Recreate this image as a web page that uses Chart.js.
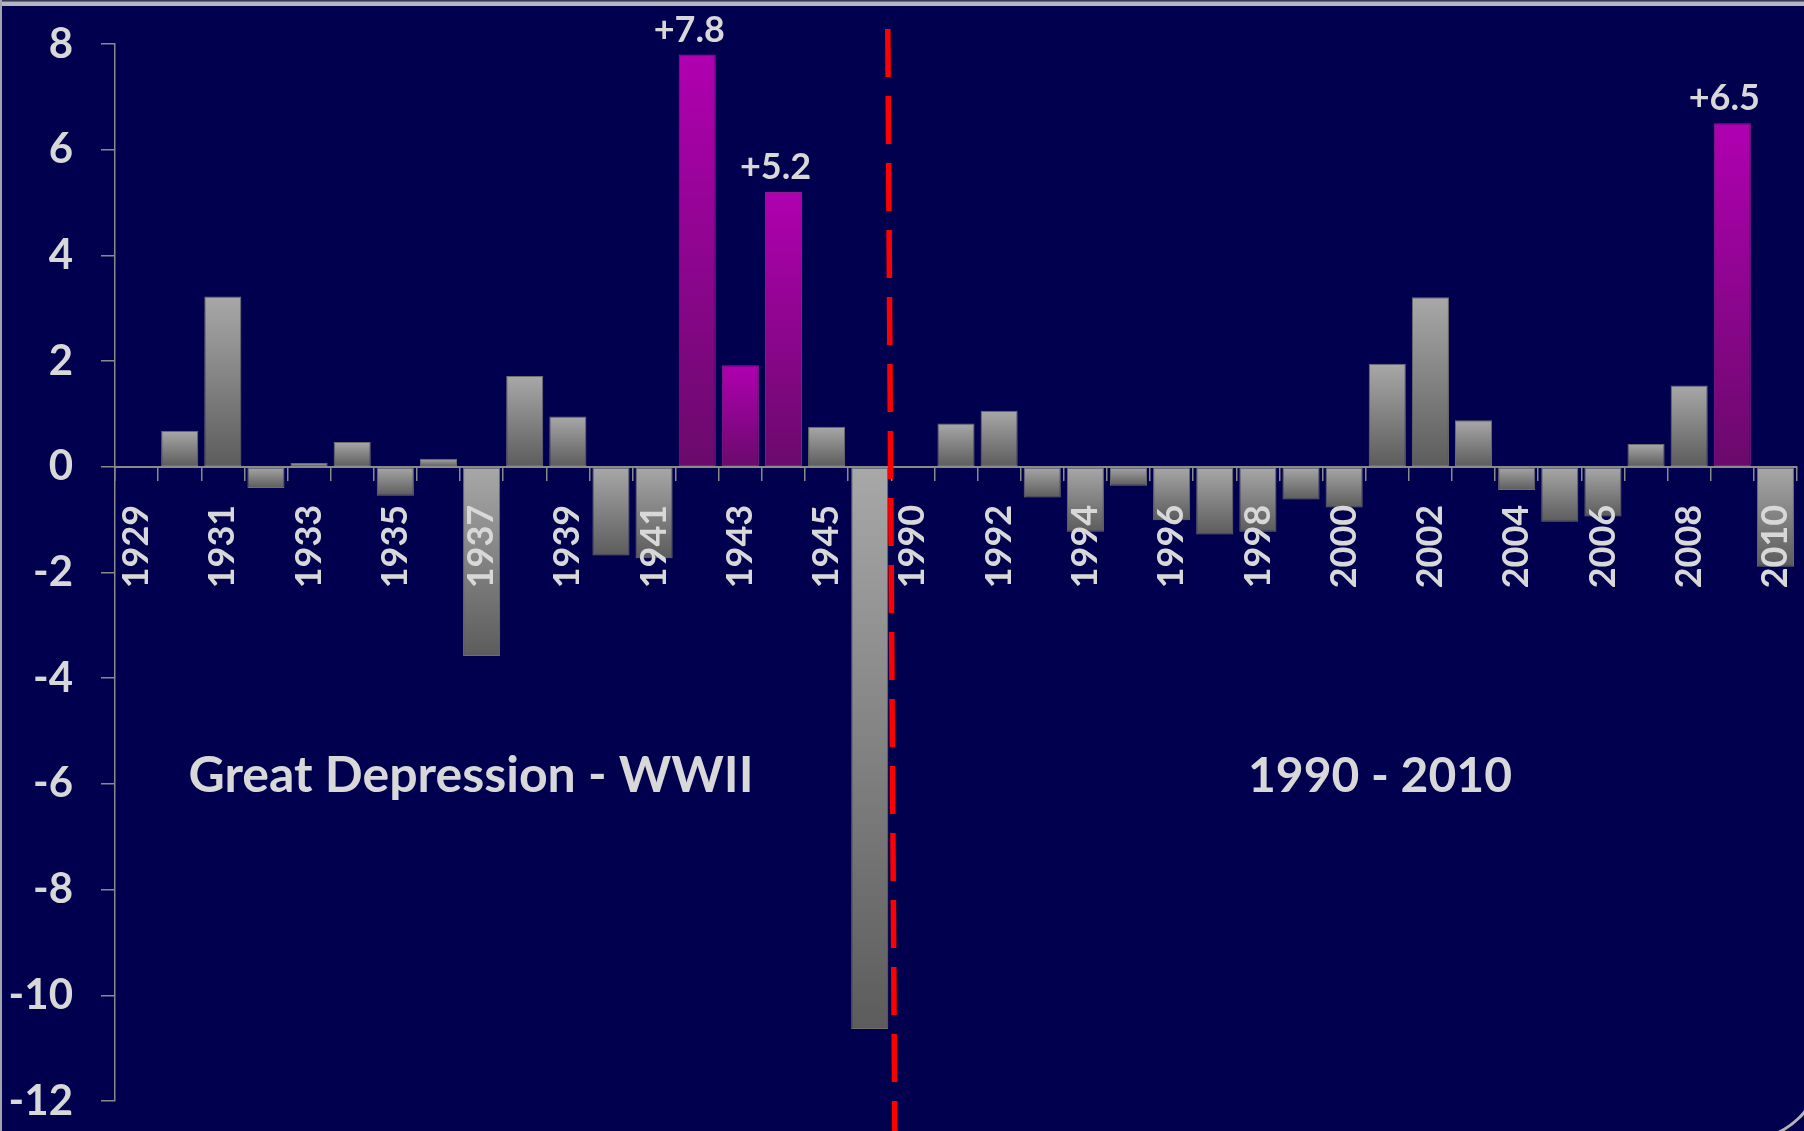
<!DOCTYPE html>
<html>
<head>
<meta charset="utf-8">
<script src="https://cdn.jsdelivr.net/npm/chart.js@4.4.1/dist/chart.umd.min.js"></script>
<style>
  html, body { margin: 0; padding: 0; background: #00004f; overflow: hidden; }
  #wrap { width: 1804px; height: 1131px; }
</style>
</head>
<body>
<div id="wrap"><canvas id="chart" width="1804" height="1131"></canvas></div>
<script>
// Two periods shown side by side: 1929-1946 and 1990-2010
const years = [
  '1929','1930','1931','1932','1933','1934','1935','1936','1937','1938',
  '1939','1940','1941','1942','1943','1944','1945','1946',
  '1990','1991','1992','1993','1994','1995','1996','1997','1998','1999',
  '2000','2001','2002','2003','2004','2005','2006','2007','2008','2009','2010'
];
const changes = [
  0, 0.68, 3.22, -0.40, 0.07, 0.47, -0.55, 0.15, -3.58, 1.72,
  0.95, -1.68, -1.73, 7.8, 1.92, 5.2, 0.76, -10.64,
  0, 0.82, 1.06, -0.58, -1.23, -0.36, -1.01, -1.28, -1.23, -0.62,
  -0.77, 1.95, 3.21, 0.88, -0.44, -1.04, -0.94, 0.43, 1.54, 6.5, -1.89
];
const highlightedYears = ['1942', '1943', '1944', '2009'];
const annotatedYears = ['1942', '1944', '2009'];
const labelledYears = [
  '1929','1931','1933','1935','1937','1939','1941','1943','1945',
  '1990','1992','1994','1996','1998','2000','2002','2004','2006','2008','2010'
];
const yTickValues = [8, 6, 4, 2, 0, -2, -4, -6, -8, -10, -12];
const periodTitles = ['Great Depression - WWII', '1990 - 2010'];

const BG = '#00004f';
const TEXT = '#d8d8d8';
const AXIS = '#8a8a8a';
const FONT = 'Lato, "Open Sans", sans-serif';
// wanted plot rectangle inside the 1804x1131 canvas
const PLOT = { left: 115, top: 44, right: 1797, bottom: 1101 };

function isHighlighted(i) { return highlightedYears.includes(years[i]); }

// Vertical gradient spanning each bar, light at the top, dark at the bottom
function barFill(ctx) {
  const chart = ctx.chart;
  const { chartArea, scales } = chart;
  if (!chartArea || !scales.y || ctx.type !== 'data') return '#999999';
  const hi = isHighlighted(ctx.dataIndex);
  const v = ctx.parsed ? ctx.parsed.y : 0;
  const p0 = scales.y.getPixelForValue(0);
  const p1 = scales.y.getPixelForValue(v);
  const top = Math.min(p0, p1);
  const bot = Math.max(p0, p1, top + 1);
  const g = chart.ctx.createLinearGradient(0, top, 0, bot);
  if (hi) {
    g.addColorStop(0, '#b000b0');
    g.addColorStop(1, '#6a0a6c');
  } else {
    g.addColorStop(0, '#a8a8a8');
    g.addColorStop(1, '#5c5c5c');
  }
  return g;
}

const backdrop = {
  id: 'backdrop',
  beforeDraw(chart) {
    const c = chart.ctx;
    c.save();
    c.fillStyle = BG;
    c.fillRect(0, 0, chart.width, chart.height);
    // slide frame: top edge, left edge, rounded lower-right corner
    c.fillStyle = '#3a3a5a';
    c.fillRect(0, 0, chart.width, 1.5);
    c.fillStyle = '#b6b6c2';
    c.fillRect(0, 1.5, chart.width, 4.5);
    c.fillStyle = '#a4a4ae';
    c.fillRect(0, 0, 2, chart.height);
    c.strokeStyle = '#b4b4b4';
    c.lineWidth = 3;
    c.beginPath();
    c.arc(1742, 1059, 82, 0, Math.PI / 2);
    c.stroke();
    c.restore();
  }
};

const overlays = {
  id: 'overlays',
  afterDraw(chart) {
    const c = chart.ctx;
    const xs = chart.scales.x, ys = chart.scales.y;
    const meta = chart.getDatasetMeta(0);
    c.save();

    // value labels above the highlighted peaks
    c.fillStyle = TEXT;
    c.font = 'bold 36px ' + FONT;
    c.textAlign = 'center';
    c.textBaseline = 'alphabetic';
    annotatedYears.forEach(yr => {
      const i = years.indexOf(yr);
      const bar = meta.data[i];
      const v = changes[i];
      c.fillText((v > 0 ? '+' : '') + v.toFixed(1), bar.x - 8, bar.y - 13);
    });

    // period titles
    const ty = ys.getPixelForValue(-6) + 8;
    c.font = 'bold 50px ' + FONT;
    c.fillText(periodTitles[0], 471, ty);
    c.font = 'bold 48px ' + FONT;
    c.fillText(periodTitles[1], 1380, ty);

    // dashed divider between the two periods
    const iLast = years.indexOf('1946');
    const split = (xs.getPixelForValue(iLast) + xs.getPixelForValue(iLast + 1)) / 2;
    c.strokeStyle = '#ff0000';
    c.lineWidth = 5.5;
    c.setLineDash([48, 19]);
    c.beginPath();
    c.moveTo(split - 3.5, chart.chartArea.top - 15);
    c.lineTo(split + 3.5, chart.height);
    c.stroke();
    c.restore();
  }
};

const padding = { left: 0, top: PLOT.top, right: 1804 - PLOT.right, bottom: 1131 - PLOT.bottom };

const chart = new Chart(document.getElementById('chart'), {
  type: 'bar',
  data: {
    labels: years,
    datasets: [{
      data: changes,
      backgroundColor: barFill,
      borderColor: ctx => isHighlighted(ctx.dataIndex) ? '#8c1a8c' : '#6e6e6e',
      borderWidth: ctx => (changes[ctx.dataIndex] === 0 ? 0 : 1),
      borderSkipped: false,
      barPercentage: 0.86,
      categoryPercentage: 1.0
    }]
  },
  options: {
    responsive: false,
    animation: false,
    events: [],
    layout: { padding },
    plugins: { legend: { display: false }, tooltip: { enabled: false } },
    scales: {
      x: {
        position: { y: 0 },
        offset: true,
        afterFit(scale) { scale.paddingLeft = 0; scale.paddingRight = 0; },
        grid: {
          offset: true,
          drawOnChartArea: false,
          drawTicks: true,
          tickLength: 13,
          color: AXIS,
          lineWidth: 1.5,
          z: 1
        },
        border: { display: true, color: AXIS, width: 2, z: 1 },
        ticks: {
          z: 1,
          autoSkip: false,
          minRotation: 90,
          maxRotation: 90,
          padding: 25,
          color: TEXT,
          font: { family: FONT, size: 36, weight: 'bold' },
          callback(value, index) {
            const yr = years[index];
            return labelledYears.includes(yr) ? yr : '';
          }
        }
      },
      y: {
        min: -12,
        max: 8,
        afterFit(scale) { scale.width = PLOT.left; scale.paddingTop = 0; scale.paddingBottom = 0; },
        afterBuildTicks(scale) { scale.ticks = yTickValues.map(v => ({ value: v })); },
        grid: {
          drawOnChartArea: false,
          drawTicks: true,
          tickLength: 14,
          color: AXIS,
          lineWidth: 1.5
        },
        border: { display: true, color: AXIS, width: 1.5 },
        ticks: {
          padding: 28,
          color: TEXT,
          font: { family: FONT, size: 42, weight: 'bold' }
        }
      }
    }
  },
  plugins: [backdrop, overlays]
});

// nudge the layout padding until the plot rectangle sits where wanted
for (let k = 0; k < 3; k++) {
  const a = chart.chartArea;
  const dt = PLOT.top - a.top, db = a.bottom - PLOT.bottom, dr = a.right - PLOT.right;
  if (Math.abs(dt) < 0.5 && Math.abs(db) < 0.5 && Math.abs(dr) < 0.5) break;
  padding.top += dt;
  padding.bottom += db;
  padding.right += dr;
  chart.update();
}
</script>
</body>
</html>
